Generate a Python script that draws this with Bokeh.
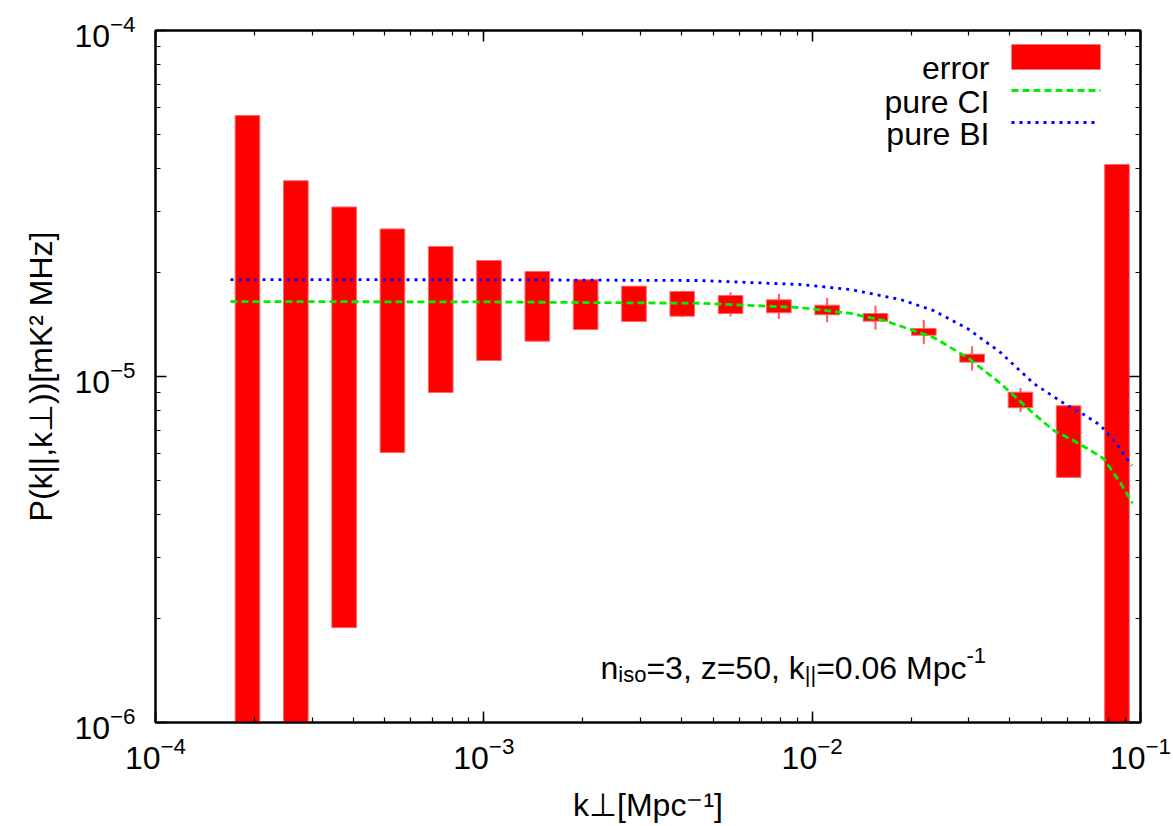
from bokeh.plotting import figure
from bokeh.models import (Range1d, LogAxis, LogTicker, Label, BoxAnnotation, Arrow,
                          ColumnDataSource, CustomJSTickFormatter)
from bokeh.embed import file_html
from bokeh.resources import INLINE

# ---- data -------------------------------------------------------------
# k_perp bin centres [Mpc^-1]
k_bins = [1.906e-4, 2.676e-4, 3.754e-4, 5.268e-4, 7.392e-4, 1.037e-3, 1.455e-3,
          2.042e-3, 2.866e-3, 4.021e-3, 5.642e-3, 7.917e-3, 1.111e-2, 1.559e-2,
          2.188e-2, 3.07e-2, 4.31e-2, 6.04e-2, 8.48e-2]
# error band (upper / lower) of the power spectrum [mK^2 MHz]
err_hi = [5.68e-5, 3.68e-5, 3.09e-5, 2.67e-5, 2.375e-5, 2.164e-5, 2.011e-5,
          1.903e-5, 1.824e-5, 1.761e-5, 1.714e-5, 1.666e-5, 1.607e-5, 1.521e-5,
          1.376e-5, 1.160e-5, 9.01e-6, 8.23e-6, 4.10e-5]
err_lo = [1.0e-7, 1.0e-7, 1.88e-6, 6.03e-6, 8.99e-6, 1.112e-5, 1.265e-5,
          1.367e-5, 1.442e-5, 1.494e-5, 1.521e-5, 1.528e-5, 1.508e-5, 1.445e-5,
          1.316e-5, 1.100e-5, 8.12e-6, 5.11e-6, 1.0e-7]
# thin error bars on bins 10..17
wk_first = 9
wk_last = 16
whisk_hi = [1.770e-5, 1.752e-5, 1.734e-5, 1.688e-5, 1.604e-5, 1.458e-5, 1.224e-5, 9.27e-6]
whisk_lo = [1.484e-5, 1.491e-5, 1.468e-5, 1.435e-5, 1.365e-5, 1.240e-5, 1.041e-5, 7.88e-6]

# pure CI model
k_ci = [1.692e-4, 1.124e-3, 4.57e-3, 9.22e-3, 1.309e-2, 1.658e-2, 2.343e-2,
        2.974e-2, 3.749e-2, 4.725e-2, 5.44e-2, 6.255e-2, 7.05e-2, 7.72e-2,
        8.70e-2, 9.46e-2]
p_ci = [1.647e-5, 1.642e-5, 1.628e-5, 1.582e-5, 1.521e-5, 1.451e-5, 1.297e-5,
        1.134e-5, 9.55e-6, 7.81e-6, 6.98e-6, 6.53e-6, 6.11e-6, 5.79e-6,
        4.91e-6, 4.30e-6]
# pure BI model
k_bi = [1.692e-4, 1.124e-3, 4.57e-3, 9.22e-3, 1.309e-2, 1.859e-2, 2.343e-2,
        2.974e-2, 3.749e-2, 4.725e-2, 5.914e-2, 6.57e-2, 7.56e-2, 8.51e-2,
        9.40e-2]
p_bi = [1.906e-5, 1.903e-5, 1.894e-5, 1.844e-5, 1.784e-5, 1.669e-5, 1.551e-5,
        1.376e-5, 1.173e-5, 9.55e-6, 8.30e-6, 7.87e-6, 7.22e-6, 6.32e-6,
        5.53e-6]

x_lim = [1e-4, 1e-1]
y_lim = [1e-6, 1e-4]
x_title = "k\u22a5[Mpc\u207b\u00b9]"
y_title = "P(k||,k\u22a5))[mK\u00b2 MHz]"

# ---- styling ------------------------------------------------------------
FONT = "Liberation Sans"
F = 32        # main text size, px
S = 22        # sub/superscript size, px
HALF_BAR = 10 ** 0.0375   # half bar width as a factor in log space

W, H = 1173, 826
p = figure(width=W, height=H, x_axis_type="log", y_axis_type="log",
           x_range=Range1d(*x_lim), y_range=Range1d(*y_lim),
           output_backend="svg", toolbar_location=None,
           min_border_left=155, min_border_right=33,
           min_border_top=30, min_border_bottom=104)
p.background_fill_color = "white"
p.border_fill_color = "white"
p.outline_line_color = "black"
p.outline_line_width = 2
p.xgrid.visible = False
p.ygrid.visible = False


def style_axis(ax, show_labels, standoff):
    ax.ticker = LogTicker(mantissas=[1], num_minor_ticks=10)
    ax.axis_line_color = "black"
    ax.axis_line_width = 2
    ax.major_tick_in = 11
    ax.major_tick_out = 0
    ax.minor_tick_in = 5
    ax.minor_tick_out = 0
    ax.major_tick_line_width = 1.5
    ax.minor_tick_line_width = 1.2
    ax.major_label_standoff = standoff
    ax.major_label_text_font = FONT
    ax.major_label_text_color = "black"
    ax.major_label_text_font_size = f"{F}px"
    ax.axis_label_text_font = FONT
    ax.axis_label_text_font_size = f"{F}px"
    ax.axis_label_text_font_style = "normal"
    ax.axis_label_text_color = "black"
    if not show_labels:
        ax.formatter = CustomJSTickFormatter(code="return ''")


style_axis(p.xaxis[0], True, 14)
style_axis(p.yaxis[0], True, 20)
p.xaxis[0].axis_label = x_title
p.xaxis[0].axis_label_standoff = 15
p.yaxis[0].axis_label = y_title
p.yaxis[0].axis_label_standoff = 12

top_ax = LogAxis()
right_ax = LogAxis()
style_axis(top_ax, False, 0)
style_axis(right_ax, False, 0)
p.add_layout(top_ax, "above")
p.add_layout(right_ax, "right")

# ---- glyphs -------------------------------------------------------------
bars = ColumnDataSource(dict(
    left=[k / HALF_BAR for k in k_bins],
    right=[k * HALF_BAR for k in k_bins],
    top=err_hi, bottom=err_lo))

wk = k_bins[wk_first:wk_last + 1]
p.segment(x0=wk, x1=wk, y0=whisk_lo, y1=whisk_hi,
          line_color="#ff5a5a", line_width=2)
p.quad(left="left", right="right", top="top", bottom="bottom", source=bars,
       fill_color="#ff0000", line_color="#ff6666", line_width=1)
p.line(k_ci, p_ci, line_color="#00ee00", line_width=2.8, line_dash="7 4")
p.line(k_bi, p_bi, line_color="#0000ff", line_width=2.8, line_dash="3 5")

# ---- text pieces (screen units, origin at frame's lower-left) ----------
WIDTHS = {' ': 278, '(': 333, ')': 333, ',': 278, '-': 333, '.': 278,
          '=': 584, '[': 278, ']': 278, '|': 260, 'B': 667, 'C': 722,
          'H': 722, 'I': 278, 'K': 667, 'M': 833, 'P': 667, 'c': 500,
          'e': 556, 'i': 222, 'k': 500, 'm': 833, 'n': 556, 'o': 556,
          'p': 556, 'r': 333, 's': 500, 'u': 556, 'z': 500}


def text_width(s, size):
    return sum(WIDTHS.get(ch, 556) for ch in s) * size / 1000.0


def rich_text(pieces, x0, y0):
    pos = 0.0
    for txt, size, rise in pieces:
        p.add_layout(Label(x=x0 + pos, y=y0 + rise, x_units="screen",
                           y_units="screen", text=txt, text_font=FONT,
                           text_font_size=f"{size}px", text_color="black",
                           text_align="left", text_baseline="alphabetic"))
        pos += text_width(txt, size)


# parameter annotation
rich_text([("n", F, 0), ("iso", S, -7), ("=3, z=50, k", F, 0), ("||", S, -7),
           ("=0.06 Mpc", F, 0), ("-1", S, 12)], 445, 55)

# ---- legend (text left, sample right) ----------------------------------
legend_names = ["error", "pure CI", "pure BI"]
legend_base = [655, 621, 589]
for name, yb in zip(legend_names, legend_base):
    p.add_layout(Label(x=834, y=yb, x_units="screen", y_units="screen",
                       text=name, text_font=FONT, text_font_size=f"{F}px",
                       text_color="black",
                       text_align="right", text_baseline="alphabetic"))
p.add_layout(BoxAnnotation(left=856, right=945, bottom=653, top=678,
                           left_units="screen", right_units="screen",
                           bottom_units="screen", top_units="screen",
                           fill_color="#ff0000", fill_alpha=1.0,
                           line_color="#ff6666", line_width=1))
p.add_layout(Arrow(x_start=856, x_end=945, y_start=632, y_end=632,
                   start_units="screen", end_units="screen", start=None, end=None,
                   line_color="#00ee00", line_width=2.8, line_dash="7 4"))
p.add_layout(Arrow(x_start=856, x_end=942, y_start=600, y_end=600,
                   start_units="screen", end_units="screen", start=None, end=None,
                   line_color="#0000ff", line_width=2.8, line_dash="3 5"))

open("out.html", "w").write(file_html(p, INLINE))
